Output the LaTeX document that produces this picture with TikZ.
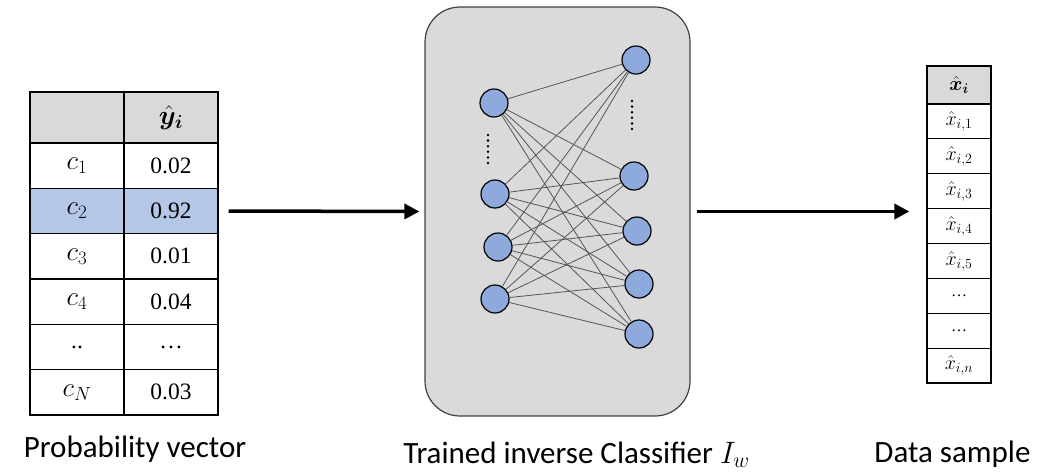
\RequirePackage{fix-cm}
\documentclass[tikz,border=0pt]{standalone}
\usepackage{amsmath,bm}
\usepackage{fontspec}
\setmainfont{Liberation Serif}
\newfontfamily\labfont{Carlito}
\usetikzlibrary{arrows.meta}
\definecolor{hdrgray}{RGB}{217,217,217}
\definecolor{selblue}{RGB}{180,199,231}
\definecolor{neublue}{RGB}{142,169,219}
\definecolor{boxgray}{RGB}{218,218,218}
\definecolor{edgegray}{RGB}{85,85,85}
\tikzset{
  lcell/.style={draw=black, line width=1.3pt, minimum width=94pt, minimum height=45.33pt, inner sep=0pt,
    font=\fontsize{23.5}{27}\selectfont},
  lmath/.style={lcell, font=\fontsize{27}{30}\selectfont},
  rcell/.style={draw=black, line width=1.2pt, minimum width=64pt, minimum height=34.875pt, inner sep=0pt,
    font=\fontsize{16}{19}\selectfont},
  rmath/.style={rcell, font=\fontsize{20}{24}\selectfont},
  neuron/.style={circle, draw=black, line width=1.2pt, fill=neublue, minimum size=28pt, inner sep=0pt},
  edge/.style={draw=edgegray, line width=0.8pt},
  arr/.style={line width=3.5pt, -{Triangle[length=15pt, width=15pt]}},
  lab/.style={font=\labfont\fontsize{31}{36}\selectfont, anchor=base, inner sep=0pt},
  dotmark/.style={circle, fill=black, inner sep=0pt, minimum size=2.8pt}
}
\begin{document}
\begin{tikzpicture}[x=1pt, y=-1pt]
\useasboundingbox (0,0) rectangle (1039,475);
% left table
\node[lcell, fill=hdrgray, minimum height=51pt] (h0) at (77,117.5) {};
\node[lmath, fill=hdrgray, minimum height=51pt] (h1) at (171,117.5) {$\hat{\bm{y}}_{\bm{i}}$};
\node[lmath] (c1) at (77,165.67) {$c_1$};
\node[lcell] (v1) at (171,165.67) {0.02};
\node[lmath, fill=selblue] (c2) at (77,211) {$c_2$};
\node[lcell, fill=selblue] (v2) at (171,211) {0.92};
\node[lmath] (c3) at (77,256.33) {$c_3$};
\node[lcell] (v3) at (171,256.33) {0.01};
\node[lmath] (c4) at (77,301.67) {$c_4$};
\node[lcell] (v4) at (171,301.67) {0.04};
\node[lcell] (c5) at (77,347) {..};
\node[lcell] (v5) at (171,347) {\dots};
\node[lmath] (cN) at (77,392.33) {$c_N$};
\node[lcell] (vN) at (171,392.33) {0.03};
% network box
\node[draw=black!75, line width=1.2pt, fill=boxgray, rounded corners=35pt,
      minimum width=265pt, minimum height=409pt, inner sep=0pt] (box) at (557.5,211.5) {};
\node[neuron] (l1) at (494,103) {};
\node[neuron] (l2) at (495,194) {};
\node[neuron] (l3) at (498,247) {};
\node[neuron] (l4) at (495,299) {};
\node[neuron] (r1) at (636,60) {};
\node[neuron] (r2) at (634,176) {};
\node[neuron] (r3) at (637,231) {};
\node[neuron] (r4) at (639,284) {};
\node[neuron] (r5) at (639,334) {};
\foreach \a in {l1,l2,l3,l4}
  \foreach \b in {r1,r2,r3,r4,r5}
    \draw[edge] (\a) -- (\b);
\foreach \k in {0,...,5} {
  \node[dotmark] (dl\k) at (488,135+5.6*\k) {};
  \node[dotmark] (dr\k) at (632,101+5.6*\k) {};
}
% right table
\node[rmath, fill=hdrgray, minimum height=38pt] (xh) at (959,85) {$\hat{\bm{x}}_{\bm{i}}$};
\node[rmath] (x1) at (959,121.44) {$\hat{x}_{i,1}$};
\node[rmath] (x2) at (959,156.31) {$\hat{x}_{i,2}$};
\node[rmath] (x3) at (959,191.19) {$\hat{x}_{i,3}$};
\node[rmath] (x4) at (959,226.06) {$\hat{x}_{i,4}$};
\node[rmath] (x5) at (959,260.94) {$\hat{x}_{i,5}$};
\node[rcell] (x6) at (959,295.81) {\dots};
\node[rcell] (x7) at (959,330.69) {\dots};
\node[rmath] (xn) at (959,365.56) {$\hat{x}_{i,n}$};
% arrows
\draw[arr] ([xshift=10pt]v2.east) -- ([xshift=-5pt]box.west);
\draw[arr] ([xshift=6pt]box.east) -- ([xshift=-17pt]box.east -| xh.west);
% labels
\node[lab] (t1) at (135,457) {Probability vector};
\node[lab] (t2) at (576.5,463) {Trained inverse Classifier $I_w$};
\node[lab] (t3) at (952.5,462) {Data sample};
\end{tikzpicture}
\end{document}
